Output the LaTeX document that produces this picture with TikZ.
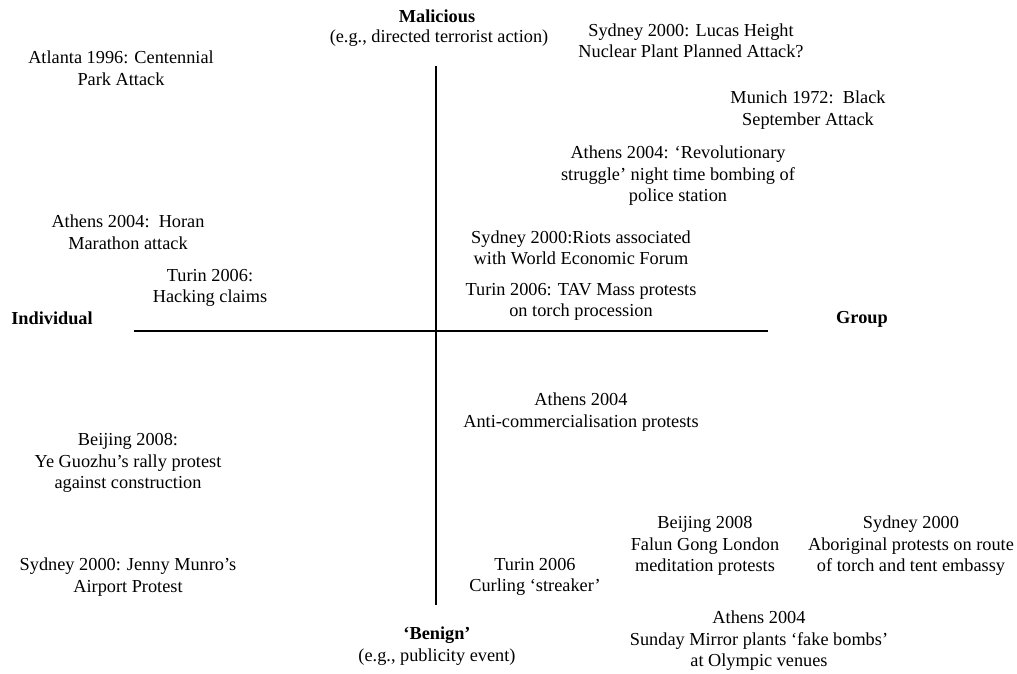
\documentclass[tikz,border=0pt]{standalone}
\usepackage{fontspec}
\setmainfont{Liberation Serif}
\tikzset{every picture/.style={line width=1.2pt}}
\tikzset{
evt/.style={align=center, inner sep=0pt, font=\fontsize{18.3}{21.5}\selectfont},
axlabel/.style={evt, font=\fontsize{18.3}{21.5}\selectfont\bfseries}}

\begin{document}
\begin{tikzpicture}[x=1pt,y=1pt,yscale=-1,xscale=1]
\path[use as bounding box] (0,0) rectangle (1017,673);

%Straight Lines (axes)
\coordinate (top) at (436,66);
\coordinate (bot) at (436,605);
\coordinate (lft) at (134,331);
\coordinate (rgt) at (768,331);
\draw (top) -- (bot);
\draw (lft) -- (rgt);

% Text Node
\node[axlabel] (mal) at (437,16) {Malicious};
% Text Node
\node[evt] (malex) at (439,38) {(e.g., directed terrorist action)};
% Text Node
\node[axlabel] (ben) at (437,635) {‘Benign’};
% Text Node
\node[evt] (benex) at (437,657) {(e.g., publicity event)};
% Text Node
\node[axlabel] (ind) at (52,318) {Individual};
% Text Node
\node[axlabel] (grp) at (862,319) {Group};

% Text Node
\node[evt] (atl) at (121,68) {Atlanta 1996: Centennial\\Park Attack};
% Text Node
\node[evt] (luc) at (691,41) {Sydney 2000: Lucas Height\\Nuclear Plant Planned Attack?};
% Text Node
\node[evt] (mun) at (808,110) {Munich 1972:\ \ Black\\September Attack};
% Text Node
\node[evt] (rev) at (678,176) {Athens 2004: ‘Revolutionary\\struggle’ night time bombing of\\police station};
% Text Node
\node[evt] (wef) at (581,248) {Sydney 2000:Riots associated\\with World Economic Forum};
% Text Node
\node[evt] (tav) at (581,302) {Turin 2006: TAV Mass protests\\on torch procession};
% Text Node
\node[evt] (hor) at (128,232) {Athens 2004:\ \ Horan\\Marathon attack};
% Text Node
\node[evt] (hack) at (210,288) {Turin 2006:\\Hacking claims};

% Text Node
\node[evt] (anti) at (581,412) {Athens 2004\\Anti-commercialisation protests};
% Text Node
\node[evt] (ye) at (128,463) {Beijing 2008:\\Ye Guozhu’s rally protest\\against construction};
% Text Node
\node[evt] (jen) at (128,577) {Sydney 2000: Jenny Munro’s\\Airport Protest};
% Text Node
\node[evt] (curl) at (535,577) {Turin 2006\\Curling ‘streaker’};
% Text Node
\node[evt] (fal) at (705,546) {Beijing 2008\\Falun Gong London\\meditation protests};
% Text Node
\node[evt] (abo) at (911,546) {Sydney 2000\\Aboriginal protests on route\\of torch and tent embassy};
% Text Node
\node[evt] (sun) at (759,641) {Athens 2004\\Sunday Mirror plants ‘fake bombs’\\at Olympic venues};
\end{tikzpicture}
\end{document}
